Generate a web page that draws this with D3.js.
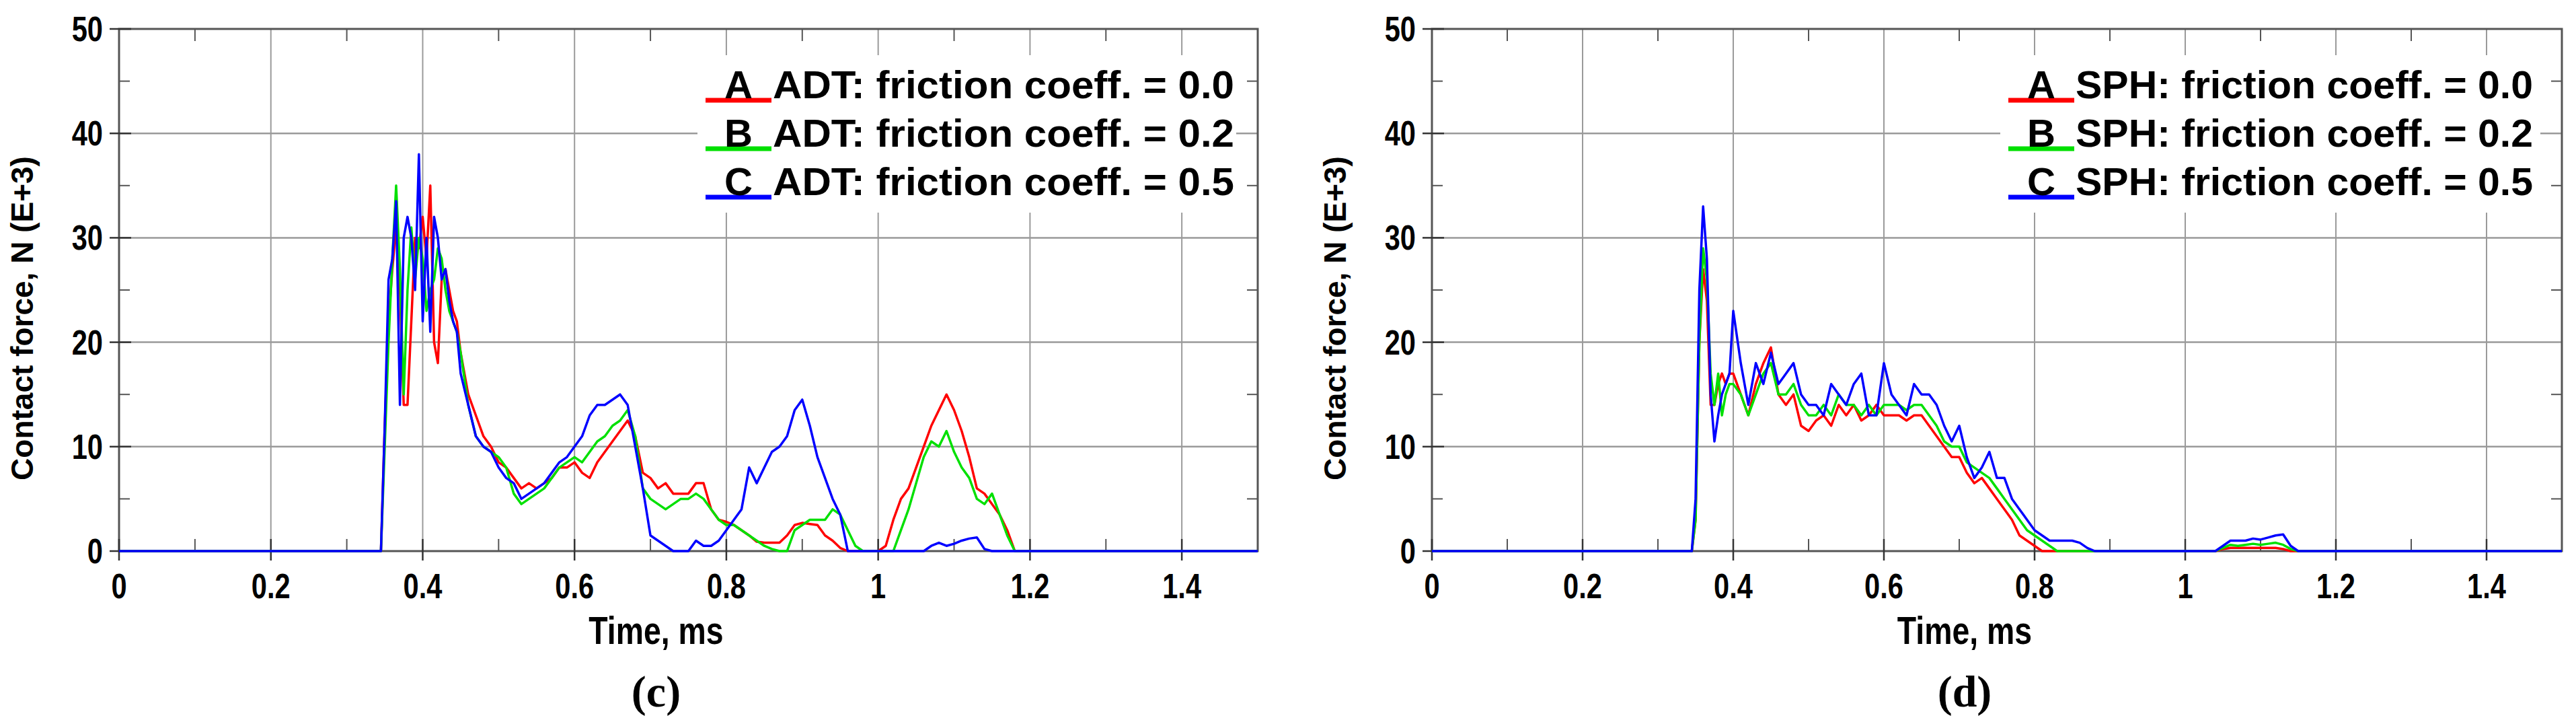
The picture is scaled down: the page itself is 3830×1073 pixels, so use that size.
<!DOCTYPE html>
<html>
<head>
<meta charset="utf-8">
<script src="https://cdn.jsdelivr.net/npm/d3@7"></script>
<style>
  body { margin: 0; background: #fff; }
  text { font-family: "Liberation Sans Narrow", "Liberation Sans", Arial, sans-serif; }
</style>
</head>
<body>
<script>
// ---- data ----
var xTicks = [0, 0.2, 0.4, 0.6, 0.8, 1, 1.2, 1.4];
var yTicks = [0, 10, 20, 30, 40, 50];
var seriesColors = ["#ff0000", "#00e000", "#0000ff"];

// panel (c) time grid: fine through the impact spikes, coarser afterwards
var adtTime = [0, 0.34].concat(d3.range(0.345, 0.4525, 0.005), d3.range(0.46, 1.205, 0.01), [1.5]);
var adtA = [0, 0,
  0,12,22,27,31,25,14,14,22,30,29,32,28,35,20,18,26,27,25,23,22,19,
  15,13,11,10,8.5,8,7,6,6.5,6,
  6.5,7,8,8,8.5,7.5,7,8.5,9.5,10.5,
  11.5,12.5,11,7.5,7,6,6.5,5.5,5.5,5.5,
  6.5,6.5,4,3,2.8,2.5,2,1.5,0.9,0.8,
  0.8,0.8,1.5,2.5,2.7,2.6,2.5,1.5,1,0.3,
  0,0,0,0,0,0.5,3,5,6,8,
  10,12,13.5,15,13.5,11.5,9,6,5.5,4.5,
  3.5,2,0,0,0, 0];
var adtB = [0, 0,
  0,10,20,28,35,27,15,25,31,26,30,28,23,25,26,29,28,25,23,22,21,19,
  14,11,10,9.5,9,8,5.5,4.5,5,5.5,
  6,7,8,8.5,9,8.5,9.5,10.5,11,12,
  12.5,13.5,11,6,5,4.5,4,4.5,5,5,
  5.5,5,4,3,2.5,2.5,2,1.5,1,0.5,
  0.2,0,0,2,2.5,3,3,3,4,3.5,
  2,0.5,0,0,0,0,0,2,4,6.5,
  9,10.5,10,11.5,9.5,8,7,5,4.5,5.5,
  3.5,1.5,0,0,0, 0];
var adtC = [0, 0,
  0,12,26,28,33.5,14,30,32,30,25,38,22,30,21,32,30,26,27,24,22,21,17,
  14,11,10,9.5,8,7,6.5,5,5.5,6,
  6.5,7.5,8.5,9,10,11,13,14,14,14.5,
  15,14,10,6,1.5,1,0.5,0,0,0,
  1,0.5,0.5,1,2,3,4,8,6.5,8,
  9.5,10,11,13.5,14.5,12,9,7,5,3.5,
  0,0,0,0,0,0,0,0,0,0,
  0,0.5,0.8,0.5,0.7,1,1.2,1.3,0.2,0,
  0,0,0,0,0, 0];

// panel (d)
var sphTime = [0, 0.345].concat(d3.range(0.35, 0.4025, 0.005), d3.range(0.41, 1.205, 0.01), [1.5]);
var sphA = [0, 0,
  3,20,27,24,14,14,16,17,16,17,17,
  15,13,16,18,19.5,15,14,15,12,11.5,
  12.5,13,12,14,13,14,12.5,13,14,13,
  13,13,12.5,13,13,12,11,10,9,9,
  7.5,6.5,7,6,5,4,3,1.5,1,0.5,
  0,0,0,0,0,0,0,0,0,0,
  0,0,0,0,0,0,0,0,0,0,
  0,0,0,0,0.2,0.3,0.3,0.3,0.3,0.3,
  0.3,0.3,0.2,0,0,0,0,0,0,0, 0];
var sphB = [0, 0,
  3,20,29,26,17,14,17,13,15,16,16,
  15,13,15,17,18,15,15,16,14,13,
  13,14,13,15,14,14,13,14,13,14,
  14,14,13.5,14,14,13,12,10.5,10,10,
  8.5,8,7.5,7,6,5,4,3,2,1.5,
  1,0.5,0,0,0,0,0,0,0,0,
  0,0,0,0,0,0,0,0,0,0,
  0,0,0,0,0.3,0.6,0.5,0.6,0.7,0.6,
  0.7,0.8,0.6,0.2,0,0,0,0,0,0, 0];
var sphC = [0, 0,
  5,25,33,28,15,10.5,13,15,16,17,23,
  18,14,18,16,19,16,17,18,15,14,
  14,13,16,15,14,16,17,13,13,18,
  15,14,13,16,15,15,14,12,10.5,12,
  9,7,8,9.5,7,7,5,4,3,2,
  1.5,1,1,1,1,0.8,0.3,0,0,0,
  0,0,0,0,0,0,0,0,0,0,
  0,0,0,0,0.5,1,1,1,1.2,1.1,
  1.3,1.5,1.6,0.5,0,0,0,0,0,0, 0];

var adtLabels = ["A_ADT: friction coeff. = 0.0", "B_ADT: friction coeff. = 0.2", "C_ADT: friction coeff. = 0.5"];
var sphLabels = ["A_SPH: friction coeff. = 0.0", "B_SPH: friction coeff. = 0.2", "C_SPH: friction coeff. = 0.5"];

var svg = d3.select("body").append("svg")
  .attr("width", 3830).attr("height", 1073);

// narrow-looking text: squeeze horizontally
function narrow(sel, px, py) {
  return sel.attr("transform", "translate(" + px + "," + py + ") scale(0.8,1)");
}

function panel(opt) {
  var x = d3.scaleLinear().domain([0, 1.5]).range([opt.x0, opt.x1]);
  var y = d3.scaleLinear().domain([0, 50]).range([819, 43]);
  var g = svg.append("g");

  // grid
  g.selectAll(".vg").data(xTicks.slice(1)).enter().append("line")
    .attr("x1", x).attr("x2", x).attr("y1", y(50)).attr("y2", y(0))
    .attr("stroke", "#9a9a9a").attr("stroke-width", 2);
  g.selectAll(".hg").data(yTicks.slice(1, -1)).enter().append("line")
    .attr("x1", x(0)).attr("x2", x(1.5)).attr("y1", y).attr("y2", y)
    .attr("stroke", "#9a9a9a").attr("stroke-width", 2.5);

  // minor ticks
  var minorX = d3.range(0.1, 1.5, 0.2);
  g.selectAll(".mxb").data(minorX).enter().append("line")
    .attr("x1", x).attr("x2", x).attr("y1", y(0)).attr("y2", y(0) - 18)
    .attr("stroke", "#555").attr("stroke-width", 2);
  g.selectAll(".mxt").data(minorX).enter().append("line")
    .attr("x1", x).attr("x2", x).attr("y1", y(50)).attr("y2", y(50) + 18)
    .attr("stroke", "#555").attr("stroke-width", 2);
  var minorY = [5, 15, 25, 35, 45];
  g.selectAll(".myl").data(minorY).enter().append("line")
    .attr("x1", x(0)).attr("x2", x(0) + 16).attr("y1", y).attr("y2", y)
    .attr("stroke", "#555").attr("stroke-width", 2);
  g.selectAll(".myr").data(minorY).enter().append("line")
    .attr("x1", x(1.5)).attr("x2", x(1.5) - 16).attr("y1", y).attr("y2", y)
    .attr("stroke", "#555").attr("stroke-width", 2);

  // frame
  g.append("rect").attr("x", x(0)).attr("y", y(50))
    .attr("width", x(1.5) - x(0)).attr("height", y(0) - y(50))
    .attr("fill", "none").attr("stroke", "#555").attr("stroke-width", 3);

  // major ticks
  g.selectAll(".tx").data(xTicks).enter().append("line")
    .attr("x1", x).attr("x2", x).attr("y1", y(0) - 18).attr("y2", y(0) + 14)
    .attr("stroke", "#333").attr("stroke-width", 2.5);
  g.selectAll(".ty").data(yTicks).enter().append("line")
    .attr("x1", x(0) - 14).attr("x2", x(0) + 18).attr("y1", y).attr("y2", y)
    .attr("stroke", "#333").attr("stroke-width", 2.5);

  // tick labels
  g.selectAll(".xl").data(xTicks).enter().append("text")
    .each(function(d){ narrow(d3.select(this), x(d), y(0) + 70); })
    .attr("text-anchor", "middle").attr("font-size", 52).attr("font-weight", "bold")
    .text(function(d){ return d; });
  g.selectAll(".yl").data(yTicks).enter().append("text")
    .each(function(d){ narrow(d3.select(this), x(0) - 24, y(d) + 18); })
    .attr("text-anchor", "end").attr("font-size", 52).attr("font-weight", "bold")
    .text(function(d){ return d; });

  // axis titles
  narrow(g.append("text"), (x(0) + x(1.5)) / 2 - 48, 957)
    .attr("text-anchor", "middle").attr("font-size", 58).attr("font-weight", "bold")
    .text("Time, ms");
  g.append("text")
    .attr("transform", "translate(" + (x(0) - 128) + ",473) rotate(-90)")
    .attr("text-anchor", "middle").attr("font-size", 46).attr("font-weight", "bold")
    .style("font-family", "'Liberation Sans', Arial, sans-serif")
    .text("Contact force, N (E+3)");
  g.append("text").attr("x", (x(0) + x(1.5)) / 2 - 48).attr("y", 1050)
    .attr("text-anchor", "middle").attr("font-size", 66).attr("font-weight", "bold")
    .style("font-family", "'Liberation Serif', 'DejaVu Serif', serif")
    .text(opt.tag);

  // curves
  var line = d3.line()
    .x(function(d, i){ return x(opt.time[i]); })
    .y(function(d){ return y(d); });
  opt.series.forEach(function(s, k) {
    g.append("path").datum(s).attr("d", line)
      .attr("fill", "none").attr("stroke", seriesColors[k])
      .attr("stroke-width", 3.5).attr("stroke-linejoin", "round");
  });

  // legend
  g.append("rect").attr("x", opt.legX - 12).attr("y", 82)
    .attr("width", x(1.5) - opt.legX - 20).attr("height", 234)
    .attr("fill", "#fff");
  opt.labels.forEach(function(t, k) {
    var by = 146 + k * 72;
    g.append("line").attr("x1", opt.legX).attr("x2", opt.legX + 98)
      .attr("y1", by + 3).attr("y2", by + 3)
      .attr("stroke", seriesColors[k]).attr("stroke-width", 7);
    g.append("text").attr("x", opt.legX + 28).attr("y", by)
      .attr("font-size", 58).attr("font-weight", "bold")
      .attr("textLength", 42).attr("lengthAdjust", "spacingAndGlyphs")
      .text(t.charAt(0));
    g.append("text").attr("x", opt.legX + 100).attr("y", by)
      .attr("font-size", 58).attr("font-weight", "bold")
      .attr("textLength", opt.legEnd - opt.legX - 100).attr("lengthAdjust", "spacingAndGlyphs")
      .text(t.slice(2));
  });
}

panel({ x0: 177, x1: 1870, time: adtTime, series: [adtA, adtB, adtC],
        labels: adtLabels, legX: 1049, legEnd: 1835, tag: "(c)" });
panel({ x0: 2129, x1: 3809, time: sphTime, series: [sphA, sphB, sphC],
        labels: sphLabels, legX: 2986, legEnd: 3766, tag: "(d)" });
</script>
</body>
</html>
